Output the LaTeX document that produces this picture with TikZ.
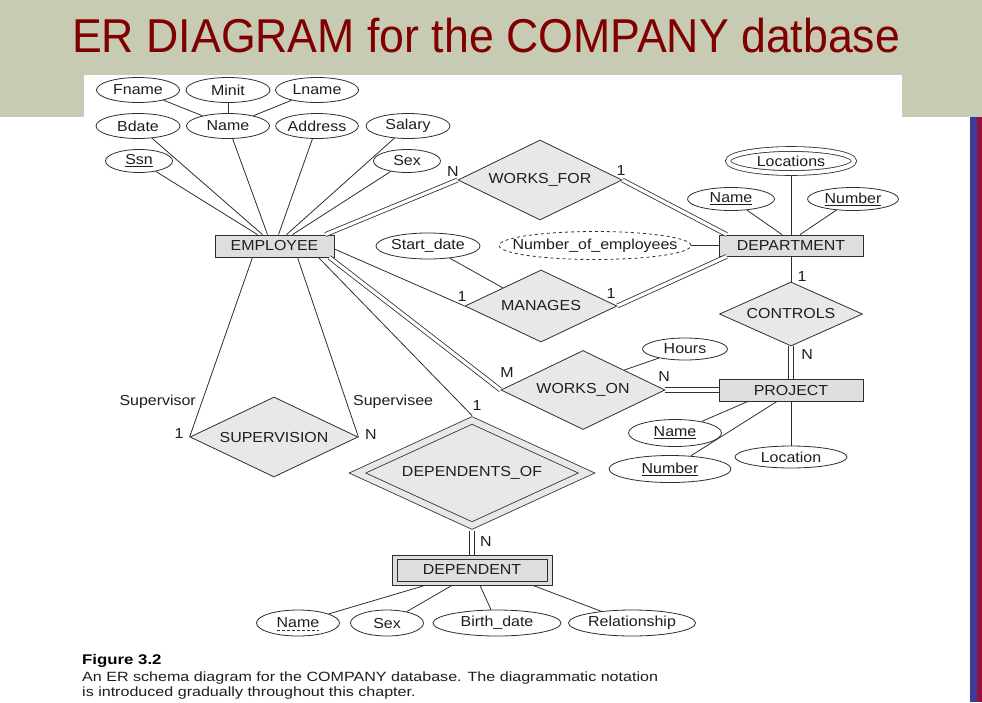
\documentclass[tikz,border=0pt]{standalone}
\usepackage{fontspec}
\setmainfont{Liberation Sans}
\newfontfamily\erfont{Liberation Sans}[FakeStretch=1.1]
\newfontfamily\titlefont{Liberation Sans}[FakeStretch=0.94]
\newfontfamily\capfont{Liberation Sans}[FakeStretch=1.2]
\usetikzlibrary{shapes.geometric}

\definecolor{bandgreen}{HTML}{C8CBB3}
\definecolor{titlered}{HTML}{800000}
\definecolor{stripeblue}{HTML}{3B3B99}
\definecolor{stripered}{HTML}{99103F}
\definecolor{erline}{HTML}{2E2E2E}
\definecolor{erText}{HTML}{1E1E1E}
\definecolor{entfill}{HTML}{DEDEDE}
\definecolor{relfill}{HTML}{E8E8E8}

\tikzset{
  attr/.style={ellipse, draw=erline, fill=white, line width=0.8pt, inner sep=0pt,
    minimum height=25pt, text=erText, font=\erfont\fontsize{14.5}{16}\selectfont},
  multiattr/.style={attr, double=white, double distance=4pt, outer sep=2.5pt},
  derived/.style={attr, dashed},
  entity/.style={rectangle, draw=erline, fill=entfill, line width=0.8pt, inner sep=0pt,
    minimum height=21pt, text=erText, font=\erfont\fontsize{14.5}{16}\selectfont},
  rel/.style={diamond, aspect=2, draw=erline, fill=relfill, line width=0.8pt, inner sep=0pt,
    text=erText, font=\erfont\fontsize{14.5}{16}\selectfont},
  weakrel/.style={rel, double=relfill, double distance=6pt, outer sep=3.5pt},
  link/.style={draw=erline, line width=0.8pt},
  total/.style={draw=erline, line width=0.8pt, double=white, double distance=3.2pt},
  card/.style={inner sep=0pt, text=erText, font=\erfont\fontsize{14.5}{16}\selectfont},
}

\begin{document}
\begin{tikzpicture}[x=1pt, y=-1pt]

    % Page frame: slide band, white figure area and the side stripes
    \useasboundingbox (0,0) rectangle (982,702);
    \fill[bandgreen] (0,0) rectangle (982,117);
    \fill[white] (84,75) rectangle (902,117);
    \fill[stripeblue] (970,117) rectangle (977,702);
    \fill[stripered] (977,117) rectangle (982,702);

    % Slide title
    \node[anchor=base west, inner sep=0pt, text=titlered,
      font=\titlefont\fontsize{47.5}{50}\selectfont] (title) at (72,52)
      {ER DIAGRAM for the COMPANY datbase};

    % Attributes of EMPLOYEE
    \node[attr, minimum width=83pt] (fname) at (138,90) {Fname};
    \node[attr, minimum width=84pt] (minit) at (228,90) {Minit};
    \node[attr, minimum width=83pt] (lname) at (317,90) {Lname};
    \node[attr, minimum width=84pt] (bdate) at (138,126) {Bdate};
    \node[attr, minimum width=83pt] (ename) at (228,126) {Name};
    \node[attr, minimum width=82pt] (addr) at (317,126) {Address};
    \node[attr, minimum width=84pt] (salary) at (408,126) {Salary};
    \node[attr, minimum width=67pt, minimum height=23pt] (ssn) at (139,161) {\underline{Ssn}};
    \node[attr, minimum width=67pt, minimum height=23pt] (esex) at (407,161) {Sex};

    % Entities
    \node[entity, minimum width=119pt, minimum height=22pt] (emp) at (274.5,246) {EMPLOYEE};
    \node[entity, minimum width=144pt] (dept) at (791,245.5) {DEPARTMENT};
    \node[entity, minimum width=144pt, minimum height=22pt] (proj) at (791,390) {PROJECT};
    % weak entity: outer box and inner box
    \node[entity, minimum width=160pt, minimum height=30pt] (dep) at (472,570) {DEPENDENT};
    \draw[link] ([xshift=5.5pt,yshift=-4.5pt]dep.north west) rectangle ([xshift=-5.5pt,yshift=4.5pt]dep.south east);

    % Relationships
    \node[rel, minimum width=164pt, minimum height=80pt] (wf) at (540,180) {WORKS\_FOR};
    \node[rel, minimum width=152pt, minimum height=72pt] (man) at (541,306) {MANAGES};
    \node[rel, minimum width=143pt, minimum height=64pt] (ctrl) at (791,314) {CONTROLS};
    \node[rel, minimum width=164pt, minimum height=79pt] (wo) at (583,390) {WORKS\_ON};
    \node[rel, minimum width=168pt, minimum height=80pt] (sup) at (274,437) {SUPERVISION};
    \node[weakrel, minimum width=232pt, minimum height=108pt] (dof) at (472,473) {DEPENDENTS\_OF};

    % Attributes of DEPARTMENT
    \node[multiattr, minimum width=126pt, minimum height=24pt] (locs) at (791,161) {Locations};
    \node[attr, minimum width=87pt, minimum height=23pt] (dname) at (731,199) {\underline{Name}};
    \node[attr, minimum width=91pt, minimum height=23pt] (dnum) at (853,199) {\underline{Number}};
    \node[derived, inner xsep=-16pt, minimum width=192pt, minimum height=28pt] (noe) at (595,245.5)
      {Number\_of\_employees};

    % Attributes of MANAGES and WORKS_ON
    \node[attr, minimum width=98pt, minimum height=26pt] (start) at (428,246) {Start\_date};
    \node[attr, minimum width=85pt, minimum height=22pt] (hours) at (685,349) {Hours};

    % Attributes of PROJECT
    \node[attr, minimum width=93pt, minimum height=27pt] (pname) at (675,433) {\underline{Name}};
    \node[attr, minimum width=122pt, minimum height=27pt] (pnum) at (670,469) {\underline{Number}};
    \node[attr, minimum width=112pt, minimum height=22pt] (ploc) at (791,457) {Location};

    % Attributes of DEPENDENT (Name is a partial key)
    \node[attr, minimum width=83pt, minimum height=26pt] (depname) at (298,623) {Name};
    \draw[link, dash pattern=on 3pt off 2pt]
      ([xshift=-21pt,yshift=-7.5pt]depname.center) -- ([xshift=21pt,yshift=-7.5pt]depname.center);
    \node[attr, minimum width=73pt, minimum height=26pt] (depsex) at (387,623) {Sex};
    \node[attr, minimum width=128pt, minimum height=26pt] (depbirth) at (497,623) {Birth\_date};
    \node[attr, minimum width=127pt, minimum height=26pt] (deprel) at (632,623) {Relationship};

    % Composite attribute Name
    \draw[link] (fname) -- (ename);
    \draw[link] (minit) -- (ename);
    \draw[link] (lname) -- (ename);

    % EMPLOYEE attribute links
    \draw[link] (ssn) -- ([xshift=-17pt]emp.north);
    \draw[link] (bdate) -- ([xshift=-12pt]emp.north);
    \draw[link] (ename) -- ([xshift=-7pt]emp.north);
    \draw[link] (addr) -- ([xshift=4pt]emp.north);
    \draw[link] (salary) -- ([xshift=12pt]emp.north);
    \draw[link] (esex) -- ([xshift=18pt]emp.north);

    % DEPARTMENT attribute links
    \draw[link] (dname) -- ([xshift=-9pt]dept.north);
    \draw[link] (locs) -- (dept.north);
    \draw[link] (dnum) -- ([xshift=9pt]dept.north);
    \draw[link] (noe) -- (dept);

    % WORKS_FOR
    \draw[total] ([xshift=-9pt]emp.north east) -- (wf.west);
    \draw[total] (wf.east) -- ([xshift=8pt]dept.north west);

    % MANAGES
    \draw[link] ([yshift=-3pt]emp.east) -- (man.west);
    \draw[total] (man.east) -- ([xshift=8pt]dept.south west);
    \draw[link] (start) -- (man.north west);

    % CONTROLS (total participation of PROJECT as two parallel lines)
    \draw[link] (dept) -- (ctrl.north);
    \draw[link] ([xshift=-2.2pt]ctrl.south) -- ([xshift=-2.2pt]proj.north);
    \draw[link] ([xshift=2.2pt]ctrl.south) -- ([xshift=2.2pt]proj.north);

    % WORKS_ON
    \draw[total] ([xshift=-5pt]emp.south east) -- (wo.west);
    \draw[link] ([yshift=2.2pt]wo.east) -- ([yshift=2.2pt]proj.west);
    \draw[link] ([yshift=-2.2pt]wo.east) -- ([yshift=-2.2pt]proj.west);
    \draw[link] (hours) -- (wo.north east);

    % PROJECT attribute links
    \draw[link] ([xshift=-43pt]proj.south) -- (pname);
    \draw[link] ([xshift=-14pt]proj.south) -- (pnum);
    \draw[link] (proj.south) -- (ploc);

    % SUPERVISION (recursive)
    \draw[link] ([xshift=-22pt]emp.south) -- (sup.west);
    \draw[link] ([xshift=23pt]emp.south) -- (sup.east);

    % DEPENDENTS_OF
    \draw[link] ([xshift=-16pt]emp.south east) -- (dof.north);
    \draw[link] ([xshift=-2.5pt]dof.south) -- ([xshift=-2.5pt]dep.north);
    \draw[link] ([xshift=2.5pt]dof.south) -- ([xshift=2.5pt]dep.north);

    % DEPENDENT attribute links
    \draw[link] ([xshift=-47pt]dep.south) -- (depname);
    \draw[link] ([xshift=-20pt]dep.south) -- (depsex);
    \draw[link] ([xshift=8pt]dep.south) -- (depbirth);
    \draw[link] ([xshift=61pt]dep.south) -- (deprel);

    % Cardinality ratios and role names
    \node[card] (cwfn) at (453,172) {N};
    \node[card] (cwf1) at (621,171) {1};
    \node[card] (cman1) at (462,297) {1};
    \node[card] (cman2) at (611,294) {1};
    \node[card] (cctrl1) at (802,277) {1};
    \node[card] (cctrln) at (807,355) {N};
    \node[card] (cwom) at (507,373) {M};
    \node[card] (cwon) at (664,377) {N};
    \node[card] (csup1) at (179,434) {1};
    \node[card] (csupn) at (371,435) {N};
    \node[card] (cdof1) at (477,406) {1};
    \node[card] (cdofn) at (486,542) {N};
    \node[card, anchor=east] (rsup) at (196,402) {Supervisor};
    \node[card, anchor=west] (rsee) at (353,402) {Supervisee};

    % Figure caption
    \node[anchor=base west, inner sep=0pt, font=\capfont\bfseries\fontsize{14}{16}\selectfont]
      (capnum) at (82,664) {Figure 3.2};
    \node[anchor=base west, inner sep=0pt, text=erText, font=\capfont\fontsize{13.4}{15}\selectfont]
      (capline1) at (82,681) {An ER schema diagram for the COMPANY database. The diagrammatic notation};
    \node[anchor=base west, inner sep=0pt, text=erText, font=\capfont\fontsize{13.4}{15}\selectfont]
      (capline2) at (82,696) {is introduced gradually throughout this chapter.};

\end{tikzpicture}
\end{document}
